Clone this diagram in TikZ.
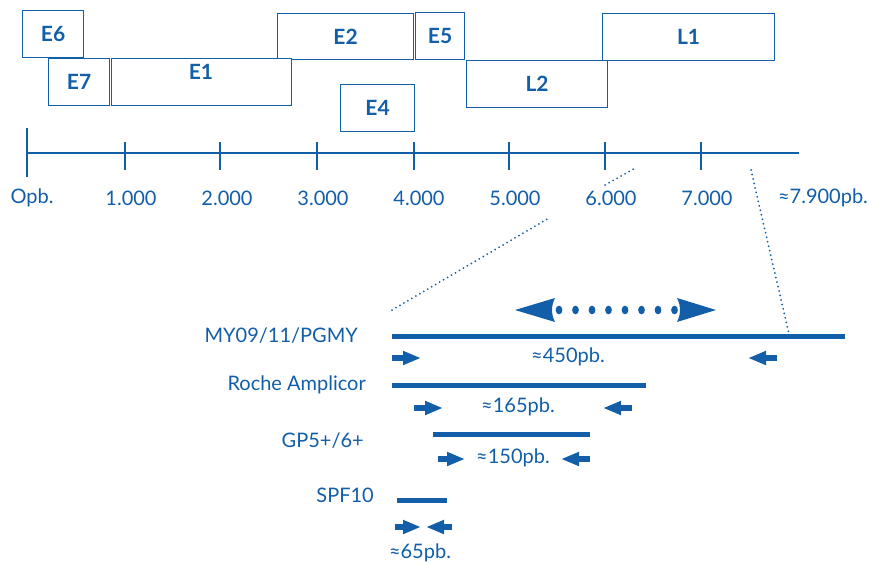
\documentclass[tikz,border=0pt]{standalone}
\usepackage{fontspec}
\setmainfont{Lato}
\usetikzlibrary{arrows.meta}
\definecolor{hb}{RGB}{18,94,168}
\begin{document}
\begin{tikzpicture}[x=1pt,y=-1pt,
  txt/.style={text=hb, font=\fontsize{20}{24}\selectfont, inner sep=0pt},
  glab/.style={text=hb, font=\fontsize{21}{24}\selectfont\bfseries, inner sep=0pt},
  gene/.style={draw=hb, line width=1.2pt, fill=white, anchor=north west, inner sep=0pt, text=hb, font=\fontsize{21}{24}\selectfont\bfseries},
  axisline/.style={draw=hb, line width=2.6pt},
  zoomline/.style={draw=hb, line width=2pt, line cap=round, dash pattern=on 0pt off 4.6pt},
  amp/.style={draw=hb, line width=5pt},
  primer/.style={draw=hb, line width=5.5pt, -{Triangle[length=18pt,width=13pt]}},
  bighead/.style={fill=hb}]
\useasboundingbox (0,0) rectangle (873,563);

% gene boxes
\node[gene, minimum width=61pt, minimum height=47pt] (e6) at (22,10) {E6};
\node[gene, minimum width=136pt, minimum height=46pt] (e2) at (277,13) {E2};
\node[gene, minimum width=49pt, minimum height=47pt] (e5) at (415,12) {E5};
\node[gene, minimum width=172pt, minimum height=47pt] (l1) at (602,13) {L1};
\node[gene, minimum width=61pt, minimum height=47pt] (e7) at (48,58) {E7};
\node[gene, minimum width=180pt, minimum height=47pt] (e1) at (111,58) {};
\node[glab] (e1t) at (201,72) {E1};
\node[gene, minimum width=141pt, minimum height=47pt] (l2) at (466,60) {L2};
\node[gene, minimum width=74pt, minimum height=47pt] (e4) at (340,84) {E4};

% axis
\coordinate (a0) at (27,153);
\coordinate (aend) at (799,153);
\draw[axisline] (a0) -- (aend);
\draw[axisline] (27,128) -- (27,177);
\foreach \x in {125,220,317,414,509,605,701}
  \draw[axisline] (\x,142) -- (\x,170);
\node[txt] (l0) at (32,198) {Opb.};
\node[txt] (l1k) at (131,198) {1.000};
\node[txt] (l2k) at (227,198) {2.000};
\node[txt] (l3k) at (323,198) {3.000};
\node[txt] (l4k) at (419,198) {4.000};
\node[txt] (l5k) at (515,198) {5.000};
\node[txt] (l6k) at (611,198) {6.000};
\node[txt] (l7k) at (707,198) {7.000};
\node[txt] (lend) at (823,198) {≈7.900pb.};

% zoom lines
\coordinate (z1a) at (392,310);
\coordinate (z1b) at (549,218);
\coordinate (z1c) at (605,185);
\coordinate (z1d) at (637,167);
\coordinate (z2a) at (751,170);
\coordinate (z2b) at (789,334);
\draw[zoomline] (z1a) -- (z1b);
\draw[zoomline] (z1c) -- (z1d);
\draw[zoomline] (z2a) -- (z2b);

% double arrow with dots
\fill[bighead] (515,310) -- (555,298) .. controls (551,306) and (551,314) .. (555,322) -- cycle;
\fill[bighead] (716,310) -- (677,298) .. controls (681,306) and (681,314) .. (677,322) -- cycle;
\foreach \x in {0,...,7}
  \fill[hb] (559+\x*16.5,310) ellipse (3.4pt and 4.3pt);

% MY09/11/PGMY
\node[txt, anchor=east] (my) at (358,336) {MY09/11/PGMY};
\coordinate (myA) at (392,336);
\coordinate (myB) at (845,336);
\draw[amp] (myA) -- (myB);
\draw[primer] (392,358) -- (421,358);
\draw[primer] (777,358) -- (748,358);
\node[txt] (my450) at (568,357) {≈450pb.};

% Roche Amplicor
\node[txt, anchor=east] (ra) at (366,385) {Roche Amplicor};
\coordinate (raA) at (392,385);
\coordinate (raB) at (646,385);
\draw[amp] (raA) -- (raB);
\draw[primer] (414,408) -- (443,408);
\draw[primer] (632,408) -- (603,408);
\node[txt] (ra165) at (518,407) {≈165pb.};

% GP5+/6+
\node[txt, anchor=east] (gp) at (364,441) {GP5+/6+};
\coordinate (gpA) at (433,434);
\coordinate (gpB) at (590,434);
\draw[amp] (gpA) -- (gpB);
\draw[primer] (438,459) -- (465,459);
\draw[primer] (590,459) -- (561,459);
\node[txt] (gp150) at (513,458) {≈150pb.};

% SPF10
\node[txt, anchor=east] (spf) at (374,495) {SPF10};
\coordinate (spA) at (397,500);
\coordinate (spB) at (447,500);
\draw[amp] (spA) -- (spB);
\draw[primer] (395,527) -- (421,527);
\draw[primer] (452,527) -- (426,527);
\node[txt] (sp65) at (420,553) {≈65pb.};
\end{tikzpicture}
\end{document}
